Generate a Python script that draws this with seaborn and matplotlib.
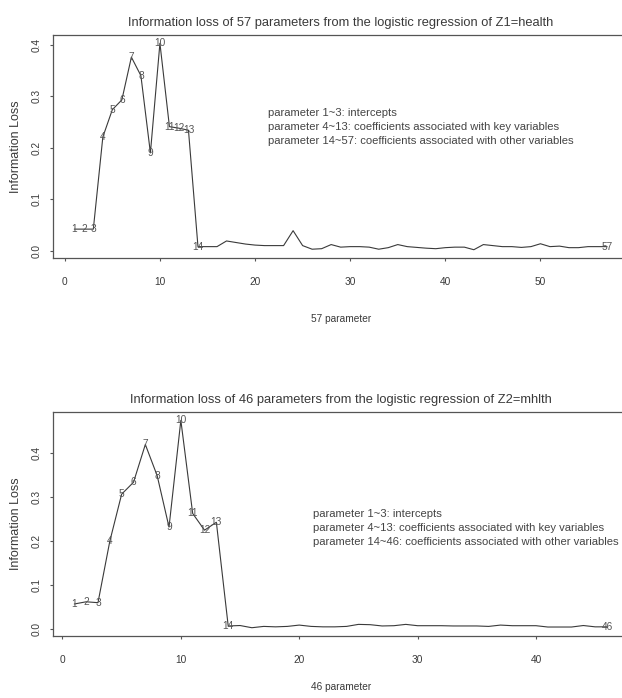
import matplotlib
matplotlib.use("Agg")
import matplotlib.pyplot as plt
import seaborn as sns
import pandas as pd

# information loss per parameter, Z1 = health (57 parameters)
health_loss = [0.042, 0.042, 0.042, 0.221, 0.274, 0.293, 0.376, 0.340, 0.190, 0.403,
               0.241, 0.238, 0.234, 0.008, 0.008, 0.008, 0.019, 0.016, 0.013, 0.011,
               0.010, 0.010, 0.010, 0.039, 0.010, 0.003, 0.004, 0.012, 0.007, 0.008,
               0.008, 0.007, 0.003, 0.006, 0.012, 0.008, 0.0065, 0.005, 0.004, 0.006,
               0.007, 0.007, 0.002, 0.012, 0.010, 0.008, 0.008, 0.0065, 0.008, 0.0136,
               0.008, 0.009, 0.006, 0.006, 0.008, 0.008, 0.008]

# information loss per parameter, Z2 = mhlth (46 parameters)
mhlth_loss = [0.057, 0.062, 0.060, 0.200, 0.307, 0.334, 0.420, 0.349, 0.232, 0.475,
              0.263, 0.225, 0.243, 0.007, 0.008, 0.003, 0.006, 0.005, 0.006, 0.009,
              0.006, 0.005, 0.005, 0.006, 0.0106, 0.0099, 0.007, 0.0076, 0.0106, 0.0076,
              0.0076, 0.0076, 0.007, 0.007, 0.007, 0.006, 0.009, 0.0076, 0.0076, 0.0076,
              0.0046, 0.0046, 0.0046, 0.008, 0.005, 0.005]

panels = [
    ("Information loss of 57 parameters from the logistic regression of Z1=health",
     health_loss, "57 parameter",
     "parameter 1~3: intercepts\nparameter 4~13: coefficients associated with key variables\n"
     "parameter 14~57: coefficients associated with other variables", (21.4, 0.241), -0.25),
    ("Information loss of 46 parameters from the logistic regression of Z2=mhlth",
     mhlth_loss, "46 parameter",
     "parameter 1~3: intercepts\nparameter 4~13: coefficients associated with key variables\n"
     "parameter 14~46: coefficients associated with other variables", (21.2, 0.231), -0.205),
]

sns.set_style("ticks")
plt.rcParams["font.family"] = ["Liberation Sans", "DejaVu Sans"]
ink = "#3a3a3a"
grey = "#555555"

fig = plt.figure(figsize=(6.22, 6.98), dpi=100)
# axes run a little past the right edge, like the cropped original
boxes = [[0.0852, 0.6304, 0.925, 0.3195], [0.0852, 0.0888, 0.925, 0.3209]]

for (title, loss, xlab, note, note_xy, xlab_y), box in zip(panels, boxes):
    ax = fig.add_axes(box)
    df = pd.DataFrame({"param": range(1, len(loss) + 1), "loss": loss})
    sns.lineplot(data=df, x="param", y="loss", ax=ax, color=ink, linewidth=0.8)

    # number the first 14 parameters and the last one
    for p, v in zip(df["param"], df["loss"]):
        if p <= 14 or p == len(loss):
            ax.text(p, v, str(p), ha="center", va="center", fontsize=7.3, color=grey)

    n = len(loss)
    ax.set_xlim(1 - 0.04 * (n - 1), n + 0.04 * (n - 1))
    lo, hi = min(loss), max(loss)
    ax.set_ylim(lo - 0.04 * (hi - lo), hi + 0.04 * (hi - lo))
    ax.set_xticks(range(0, n + 1, 10))
    ax.set_yticks([0.0, 0.1, 0.2, 0.3, 0.4])
    ax.set_yticklabels(["0.0", "0.1", "0.2", "0.3", "0.4"], rotation=90, va="center",
                       fontsize=7.3)
    ax.tick_params(axis="x", labelsize=7.3, pad=11, length=2.5, color=grey, labelcolor=ink)
    ax.tick_params(axis="y", pad=6, length=2.5, color=grey, labelcolor=ink)

    ax.set_title(title, fontsize=9.3, color=ink, pad=6.5)
    ax.set_xlabel(xlab, fontsize=7.3, color=ink)
    ax.xaxis.set_label_coords(0.5, xlab_y)
    ax.set_ylabel("Information Loss", fontsize=9, color=ink)
    ax.yaxis.set_label_coords(-0.054, 0.5)

    ax.text(note_xy[0], note_xy[1], note, ha="left", va="center", fontsize=8.1,
            color="#444444", linespacing=1.5)

    for side in ["left", "bottom", "top", "right"]:
        ax.spines[side].set_visible(True)
        ax.spines[side].set_color(grey)
        ax.spines[side].set_linewidth(0.9)

plt.savefig("out.png", dpi=100)
